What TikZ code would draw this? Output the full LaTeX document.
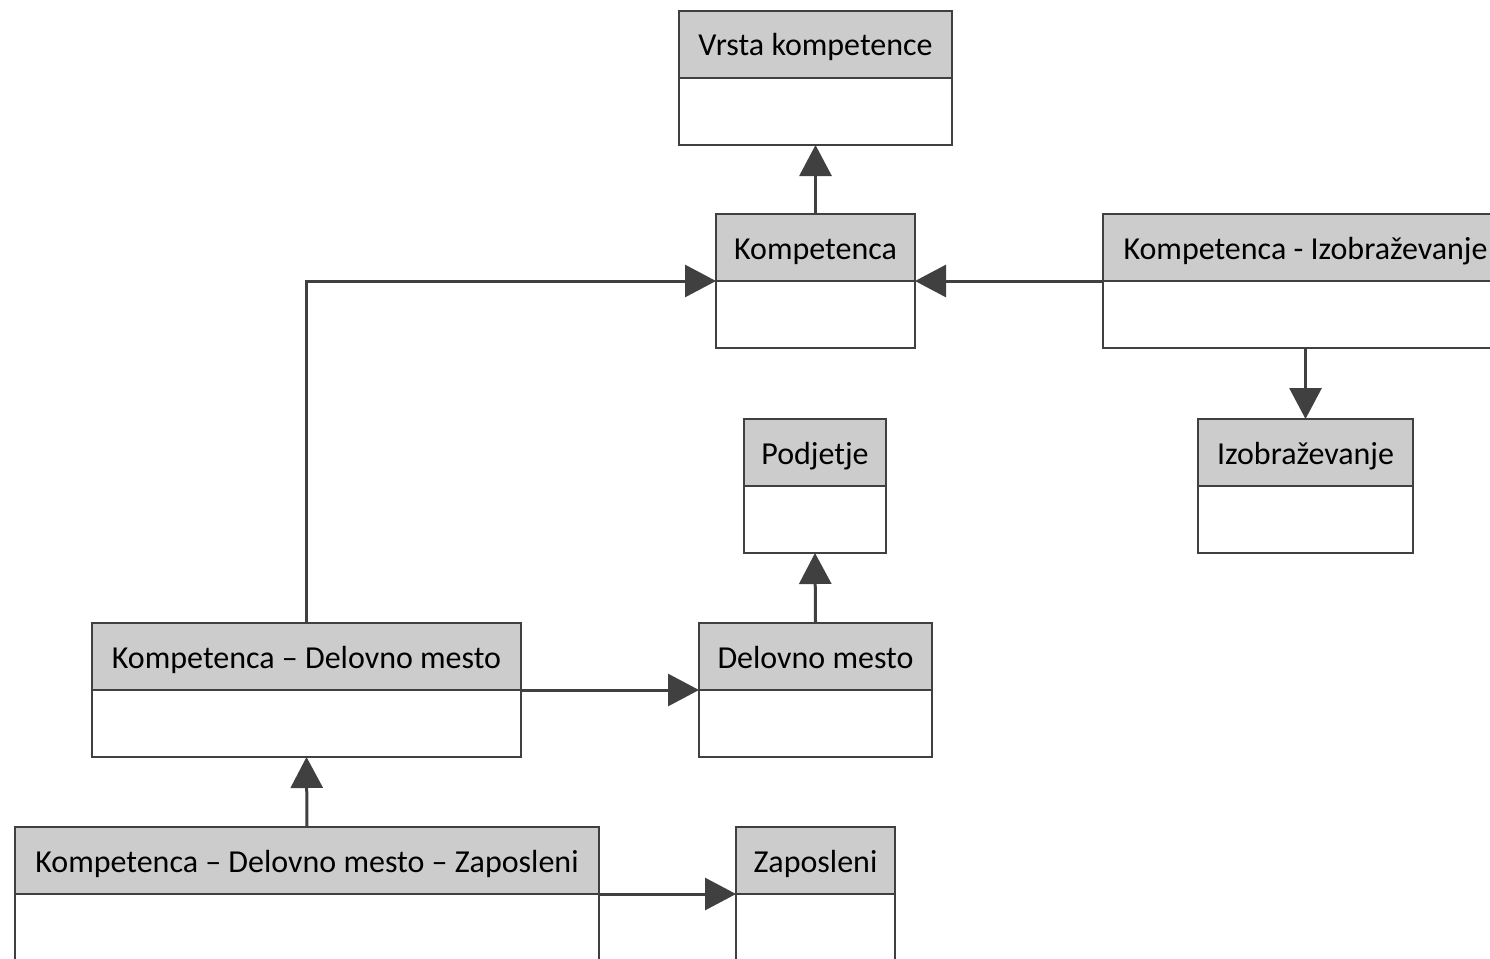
\documentclass[tikz,border=0pt]{standalone}
\usepackage{fontspec}
\setmainfont{Carlito}
\usetikzlibrary{arrows.meta, positioning, calc}
\definecolor{umlgray}{HTML}{CCCCCC}
\definecolor{umlline}{HTML}{404040}

\tikzset{
  hdr/.style={draw=umlline, fill=umlgray, line width=1.5pt, minimum height=67pt,
              inner sep=0pt, outer sep=0pt, anchor=north west,
              text height=30pt, text depth=7pt,
              font=\fontsize{32}{38}\selectfont},
  body/.style={draw=umlline, fill=white, line width=1.5pt, minimum height=67pt,
               inner sep=0pt, outer sep=0pt},
  rel/.style={draw=umlline, line width=3pt, -{Triangle[length=31pt, width=32pt]}},
}

%% header + empty body of one class box
\newcommand{\umlbox}[5]{%
  \node[hdr, minimum width=#4pt] (#1) at (#2,#3) {#5};
  \node[body, minimum width=#4pt, below=0pt of #1] (#1b) {};
}

\begin{document}
\begin{tikzpicture}[x=1pt, y=-1pt]
  \clip (0,0) rectangle (1490,958);

  %% class boxes: name/left/top/width/title
  \foreach \nm/\x/\y/\w/\txt in {
      vrsta/679/11/273/Vrsta kompetence,
      komp/716/214/199/Kompetenca,
      ki/1103/214/405/Kompetenca - Izobraževanje,
      izo/1198/419/215/Izobraževanje,
      podj/744/419/142/Podjetje,
      dm/699/623/233/Delovno mesto,
      kdm/92/623/429/Kompetenca – Delovno mesto,
      kdmz/15/827/584/Kompetenca – Delovno mesto – Zaposleni,
      zap/736/827/159/Zaposleni} {
    \umlbox{\nm}{\x}{\y}{\w}{\txt}
  }

  %% relations
  \draw[rel] (komp.north) -- (vrstab.south);
  \draw[rel] (kdm.north) |- (kompb.north west);
  \draw[rel] (kib.north west) -- (kompb.north east);
  \draw[rel] (kib.south) -- (izo.north);
  \draw[rel] (dm.north) -- (podjb.south);
  \draw[rel] (kdmb.north east) -- (dmb.north west);
  \draw[rel] (kdmz.north) -- (kdmb.south);
  \draw[rel] (kdmzb.north east) -- (zapb.north west);

\end{tikzpicture}
\end{document}
